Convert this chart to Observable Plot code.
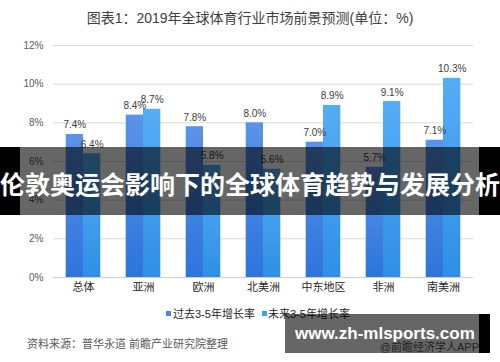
<!DOCTYPE html>
<html><head><meta charset="utf-8">
<script src="https://cdn.jsdelivr.net/npm/d3@7"></script>
<script src="https://cdn.jsdelivr.net/npm/@observablehq/plot@0.6"></script>
<style>
html,body{margin:0;padding:0;background:#fff;}
#wrap{position:relative;width:500px;height:362px;overflow:hidden;font-family:"Liberation Sans","Noto Sans CJK SC",sans-serif;}
.abs{position:absolute;white-space:nowrap;}
</style></head>
<body><div id="wrap"></div>
<script>
const regions = ["总体","亚洲","欧洲","北美洲","中东地区","非洲","南美洲"];
const past = [7.4,8.4,7.8,8.0,7.0,5.7,7.1];
const future = [6.4,8.7,5.8,5.6,8.9,9.1,10.3];
const seriesNames = ["过去3-5年增长率","未来3-5年增长率"];
const yTicks = [0,2,4,6,8,10,12];
const titleText = "图表1：2019年全球体育行业市场前景预测(单位：%)";
const sourceText = "资料来源：普华永道 前瞻产业研究院整理";
const creditText = "@前瞻经济学人APP";
const bannerText = "伦敦奥运会影响下的全球体育趋势与发展分析";
const siteText = "www.zh-mlsports.com";

const pastData = regions.map((r,i)=>({region:r, value:past[i]}));
const futureData = regions.map((r,i)=>({region:r, value:future[i]}));

const outer = 12.7, inner = 30, half = 8.65;
const chart = Plot.plot({
  width: 500, height: 362,
  marginLeft: 53, marginRight: 27, marginTop: 45, marginBottom: 85,
  style: {fontSize: "10px", color: "#595959", fontFamily: "'Liberation Sans','Noto Sans CJK SC',sans-serif", background: "transparent"},
  x: {domain: regions, padding: 0, axis: null},
  y: {domain: [0,12], ticks: yTicks, tickFormat: d => d + "%", tickSize: 0, tickPadding: 10, label: null},
  marks: [
    Plot.ruleY(yTicks.filter(d=>d>0), {stroke: "#d9d9d9", strokeWidth: 1}),
    Plot.ruleY([0], {stroke: "#cfcfcf", strokeWidth: 1}),
    Plot.barY(pastData, {x: "region", y: "value", fill: "url(#gPast)", insetLeft: outer, insetRight: inner}),
    Plot.barY(futureData, {x: "region", y: "value", fill: "url(#gFuture)", insetLeft: inner, insetRight: outer}),
    Plot.text(pastData, {x: "region", y: "value", text: d => d.value.toFixed(1) + "%", dx: -half, dy: -6, lineAnchor: "bottom", fill: "#404040", fontSize: 10}),
    Plot.text(futureData, {x: "region", y: "value", text: d => d.value.toFixed(1) + "%", dx: half, dy: -6, lineAnchor: "bottom", fill: "#404040", fontSize: 10}),
    Plot.text(regions, {x: d => d, frameAnchor: "bottom", dy: 13, fill: "#262626", fontSize: 11})
  ]
});
const svg = d3.select(chart);
const defs = svg.insert("defs", ":first-child");
function grad(id, top, bottom){
  const g = defs.append("linearGradient").attr("id", id).attr("x1",0).attr("y1",0).attr("x2",0).attr("y2",1);
  g.append("stop").attr("offset","0%").attr("stop-color",top);
  g.append("stop").attr("offset","100%").attr("stop-color",bottom);
}
grad("gPast", "#5b93e8", "#2d74db");
grad("gFuture", "#55adf5", "#2f8fe6");
chart.style.position = "absolute"; chart.style.left = "0"; chart.style.top = "0";

const wrap = document.getElementById("wrap");
wrap.appendChild(chart);
function add(html, css){ const d = document.createElement("div"); d.className = "abs"; d.innerHTML = html; Object.assign(d.style, css); wrap.appendChild(d); return d; }

add(titleText, {left:"0", width:"500px", textAlign:"center", top:"8px", lineHeight:"20px", fontSize:"14px", color:"#404040"});
// legend
add("", {left:"166px", top:"311px", width:"5px", height:"5px", background:"#4a86e8"});
add(seriesNames[0], {left:"173px", top:"306px", lineHeight:"16px", fontSize:"11px", color:"#262626"});
add("", {left:"262px", top:"311px", width:"5px", height:"5px", background:"#3fa2f2"});
add(seriesNames[1], {left:"268px", top:"306px", lineHeight:"16px", fontSize:"11px", color:"#262626"});
add(sourceText, {left:"27px", top:"336px", lineHeight:"16px", fontSize:"11px", color:"#595959"});
add(creditText, {right:"21px", top:"339px", lineHeight:"16px", fontSize:"11px", color:"#595959"});

// banner overlay
add("", {left:"0", top:"147px", width:"20px", height:"68px", background:"#000"});
add("", {left:"20px", top:"147px", width:"459px", height:"68px", background:"rgba(0,0,0,0.6)"});
add("", {left:"479px", top:"147px", width:"21px", height:"68px", background:"#000"});
add(bannerText, {left:"0", width:"500px", textAlign:"center", top:"166px", lineHeight:"34px", fontSize:"25px", fontWeight:"bold", color:"#fff", fontFamily:"'Noto Sans CJK SC',sans-serif"});

// bottom watermark box
add("", {left:"285px", top:"314px", width:"194px", height:"39px", background:"rgba(0,0,0,0.6)"});
add("", {left:"479px", top:"314px", width:"11px", height:"39px", background:"#000"});
add(siteText, {left:"295px", top:"324px", lineHeight:"20px", fontSize:"17px", fontWeight:"bold", color:"#fff"});
</script></body></html>
